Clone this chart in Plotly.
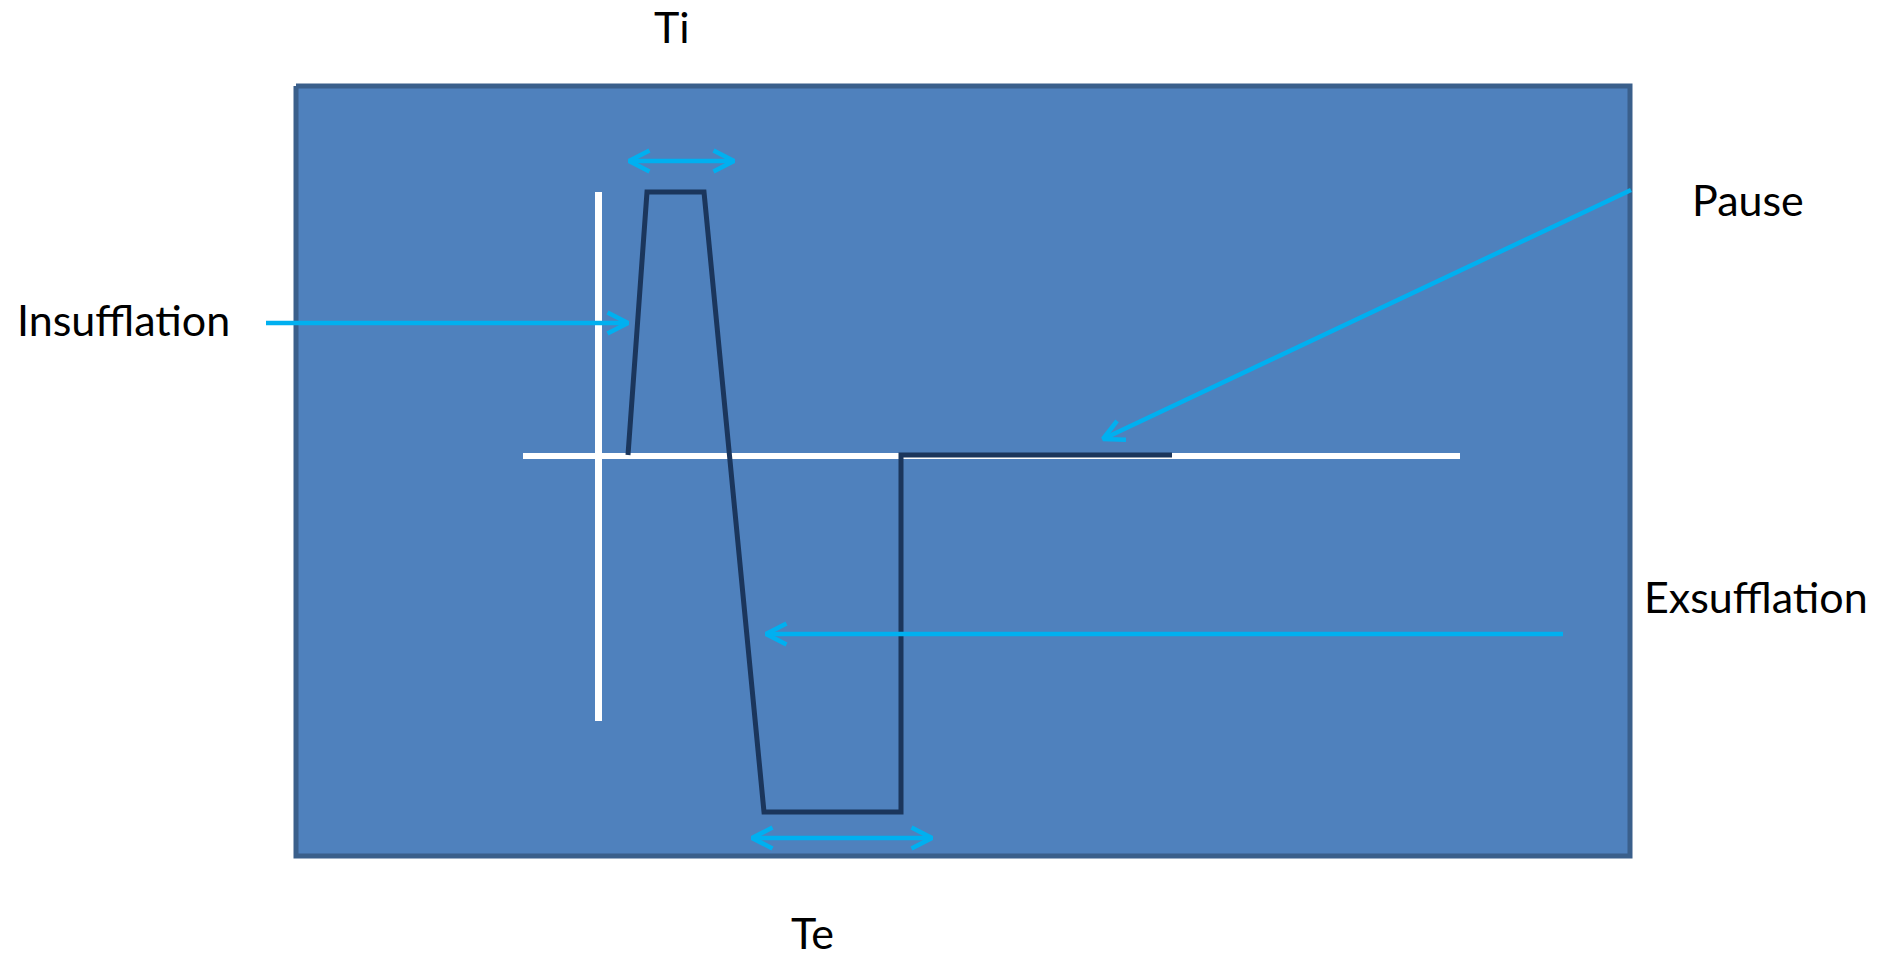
import numpy as np
import plotly.graph_objects as go

W, H = 1878, 962

# Diagram frame (pixel-like coordinate space)
frame_x = [296, 1630, 1630, 296, 296]
frame_y = [86, 86, 856, 856, 86]

# White axes
vaxis_x = [598.5, 598.5]
vaxis_y = [192, 721]
haxis_x = [523, 1460]
haxis_y = [456, 456]

# Pressure waveform
wave_x = [628, 647, 704, 764, 901, 901, 1172]
wave_y = [455, 192, 192, 812, 812, 455, 455]

# Arrows: start x, start y, end x, end y, double-headed
arrow_names = ["Insufflation", "Pause", "Exsufflation", "Ti", "Te"]
arrow_x0 = [266, 1631, 1563, 629, 752]
arrow_y0 = [323, 190, 634, 161, 838]
arrow_x1 = [628, 1103, 766, 734, 932]
arrow_y1 = [323, 439, 634, 161, 838]
arrow_double = [False, False, False, True, True]

# Labels
label_text = ["Ti", "Te", "Insufflation", "Pause", "Exsufflation"]
label_x = [672, 812, 123, 1748, 1756]
label_y = [26, 932, 319, 199, 596]

FRAME_FILL = "#4F81BD"
FRAME_LINE = "#3A5F8B"
WAVE_COLOR = "#1B365C"
ARROW_COLOR = "#00B0F0"

fig = go.Figure()

fig.add_trace(go.Scatter(x=frame_x, y=frame_y, mode="lines", fill="toself",
                         fillcolor=FRAME_FILL, line=dict(color=FRAME_LINE, width=5),
                         hoverinfo="skip", showlegend=False))
fig.add_trace(go.Scatter(x=vaxis_x, y=vaxis_y, mode="lines",
                         line=dict(color="white", width=7), hoverinfo="skip", showlegend=False))
fig.add_trace(go.Scatter(x=haxis_x, y=haxis_y, mode="lines",
                         line=dict(color="white", width=6), hoverinfo="skip", showlegend=False))
fig.add_trace(go.Scatter(x=wave_x, y=wave_y, mode="lines",
                         line=dict(color=WAVE_COLOR, width=5), hoverinfo="skip", showlegend=False))


def head(tx, ty, fx, fy, L=23.0, ang=np.deg2rad(27)):
    d = np.array([fx - tx, fy - ty], dtype=float)
    d /= np.linalg.norm(d)
    out_x, out_y = [], []
    for s in (ang, -ang):
        c, sn = np.cos(s), np.sin(s)
        r = np.array([d[0] * c - d[1] * sn, d[0] * sn + d[1] * c])
        out_x.append(tx + L * r[0])
        out_y.append(ty + L * r[1])
    return [out_x[0], tx, out_x[1]], [out_y[0], ty, out_y[1]]


for x0, y0, x1, y1, dbl in zip(arrow_x0, arrow_y0, arrow_x1, arrow_y1, arrow_double):
    xs = [x0, x1, None]
    ys = [y0, y1, None]
    hx, hy = head(x1, y1, x0, y0)
    xs += hx + [None]
    ys += hy + [None]
    if dbl:
        hx, hy = head(x0, y0, x1, y1)
        xs += hx + [None]
        ys += hy + [None]
    fig.add_trace(go.Scatter(x=xs, y=ys, mode="lines",
                             line=dict(color=ARROW_COLOR, width=4.5),
                             hoverinfo="skip", showlegend=False))

for t, x, y in zip(label_text, label_x, label_y):
    fig.add_annotation(x=x, y=y, text=t, showarrow=False, xanchor="center", yanchor="middle",
                       font=dict(family="Lato", size=43, color="black"))

fig.update_layout(
    width=W, height=H,
    margin=dict(l=0, r=0, t=0, b=0),
    paper_bgcolor="white", plot_bgcolor="white",
    xaxis=dict(range=[0, W], visible=False, fixedrange=True),
    yaxis=dict(range=[H, 0], visible=False, fixedrange=True),
    showlegend=False,
)

fig.write_html("out.html", config={"displayModeBar": False},
               post_script="document.body.style.margin='0';")
